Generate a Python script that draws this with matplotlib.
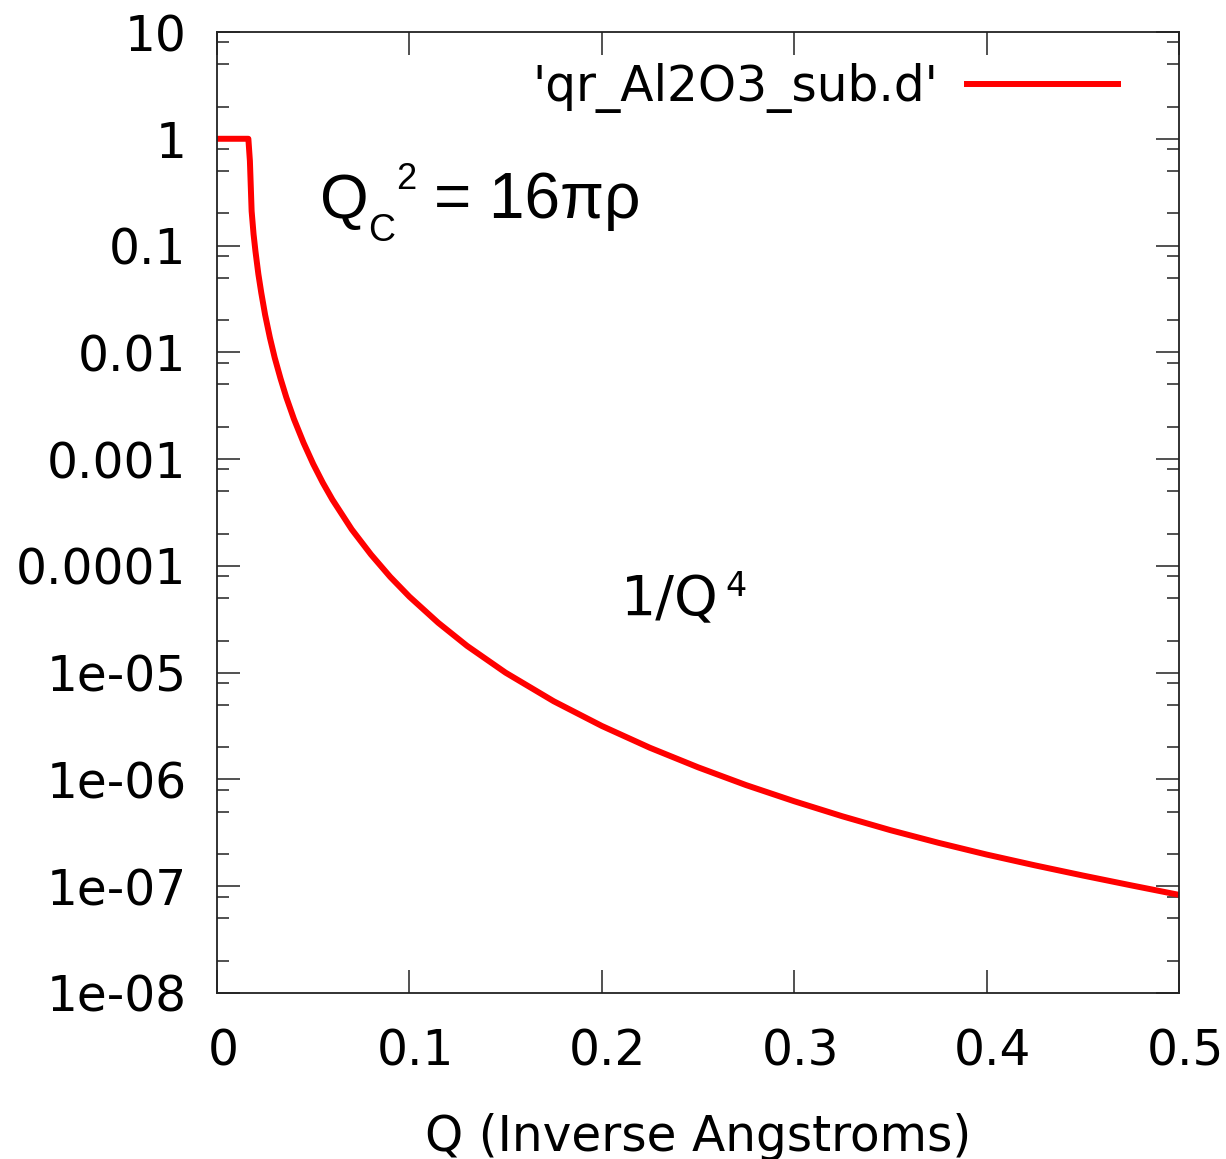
import matplotlib
matplotlib.use('Agg')
import matplotlib.pyplot as plt
import matplotlib.transforms as mtransforms
import numpy as np

# reflectivity curve
q = [0.0, 0.0163, 0.0171, 0.0180, 0.0190, 0.0200, 0.0215, 0.0230, 0.0250,
     0.0275, 0.0300, 0.0330, 0.0360, 0.0400, 0.0450, 0.0500, 0.0550, 0.0600,
     0.0700, 0.0800, 0.0900, 0.1000, 0.1150, 0.1300, 0.1500, 0.1750, 0.2000,
     0.2250, 0.2500, 0.2750, 0.3000, 0.3250, 0.3500, 0.3750, 0.4000, 0.4250,
     0.4500, 0.4750, 0.5000]
r = [1.0, 1.0, 0.62, 0.21, 0.128, 0.088, 0.054, 0.0362, 0.0225,
     0.0137, 0.0089, 0.0057, 0.0038, 0.00237, 0.00142, 9.0e-4, 6.0e-4, 4.17e-4,
     2.2e-4, 1.28e-4, 7.9e-5, 5.15e-5, 2.93e-5, 1.78e-5, 1.0e-5, 5.4e-6, 3.17e-6,
     1.98e-6, 1.3e-6, 8.85e-7, 6.25e-7, 4.52e-7, 3.35e-7, 2.55e-7, 1.98e-7, 1.57e-7,
     1.26e-7, 1.02e-7, 8.3e-8]

xticks = [0, 0.1, 0.2, 0.3, 0.4, 0.5]
xlabels = ['0', '0.1', '0.2', '0.3', '0.4', '0.5']
yticks = [10, 1, 0.1, 0.01, 0.001, 1e-4, 1e-5, 1e-6, 1e-7, 1e-8]
ylabels = ['10', '1', '0.1', '0.01', '0.001', '0.0001', '1e-05', '1e-06', '1e-07', '1e-08']
series_name = "'qr_Al2O3_sub.d'"

W, H = 1226, 1159
fs = 35

fig = plt.figure(figsize=(W / 100, H / 100), dpi=100)
ax = fig.add_axes([217 / W, 1 - 993 / H, (1179 - 217) / W, (993 - 32) / H])

ax.semilogy(q, r, color='red', lw=4.3, label=series_name)
ax.set_xlim(0, 0.5)
ax.set_ylim(1e-8, 10)

ax.set_xticks(xticks)
ax.set_xticklabels(xlabels, fontsize=fs)
ax.set_yticks(yticks)
ax.set_yticklabels(ylabels, fontsize=fs)
ax.yaxis.set_minor_locator(matplotlib.ticker.LogLocator(base=10, subs=[2, 5, 8], numticks=20))
ax.yaxis.set_minor_formatter(matplotlib.ticker.NullFormatter())
ax.xaxis.set_minor_locator(matplotlib.ticker.NullLocator())

ax.tick_params(which='major', direction='in', length=16.5, width=1.1,
               top=True, right=True, color='#222222')
ax.tick_params(which='minor', direction='in', length=8.5, width=1.1,
               top=True, right=True, color='#222222')
ax.tick_params(axis='y', pad=22)
ax.tick_params(axis='x', pad=25)
for s in ax.spines.values():
    s.set_linewidth(1.3)
    s.set_color('#222222')

# gnuplot puts the x labels a bit right of the ticks
off = mtransforms.ScaledTranslation(6 / 100, 0, fig.dpi_scale_trans)
for lab in ax.get_xticklabels():
    lab.set_transform(lab.get_transform() + off)

ax.set_xlabel('Q (Inverse Angstroms)', fontsize=fs, labelpad=27)

leg = ax.legend(loc='center right', bbox_to_anchor=((1118 - 217) / 962, 1 - (88 - 32) / 961),
                frameon=False, markerfirst=False, fontsize=fs, handlelength=3.1,
                handletextpad=0.6, borderpad=0, borderaxespad=0)

# annotations
def px(x, y):
    return x / W, 1 - y / H

fig.text(*px(320, 218), 'Q', fontsize=45, family='Liberation Sans', va='baseline')
fig.text(*px(368, 241), 'C', fontsize=27, family='Liberation Sans', va='baseline')
fig.text(*px(396, 189), '2', fontsize=26, family='Liberation Sans', va='baseline')
fig.text(*px(434, 218), '= 16\u03c0\u03c1', fontsize=46, family='Liberation Sans', va='baseline')

fig.text(*px(621, 615), '1/Q', fontsize=40, va='baseline')
fig.text(*px(725, 596), '4', fontsize=24, va='baseline')

fig.savefig('out.png', dpi=100)
